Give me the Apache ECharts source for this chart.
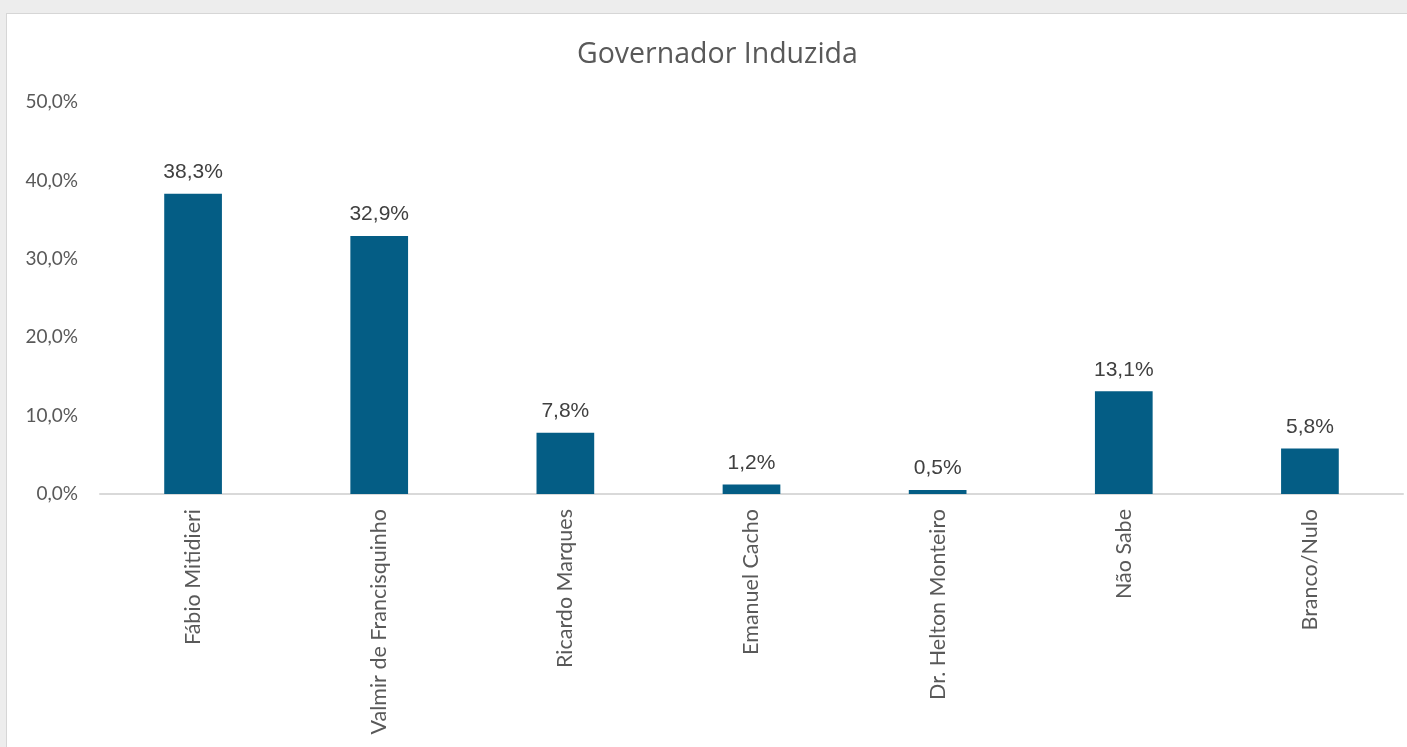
<!DOCTYPE html>
<html>
<head>
<meta charset="utf-8">
<script src="https://cdn.jsdelivr.net/npm/echarts@6/dist/echarts.min.js"></script>
<style>
  html, body { margin: 0; padding: 0; width: 1407px; height: 747px; background: #ededed; overflow: hidden; }
  #panel {
    position: absolute; left: 6px; top: 13px; width: 1401px; height: 734px;
    background: #ffffff; border-left: 1px solid #d6d6d6; border-top: 1px solid #d6d6d6;
  }
  #chart { position: absolute; left: 0; top: 0; width: 1401px; height: 734px; }
</style>
</head>
<body>
<div id="panel"><div id="chart"></div></div>
<script>
// Governor poll (induced), share of responses in percent
const categories = [
  'Fábio Mitidieri',
  'Valmir de Francisquinho',
  'Ricardo Marques',
  'Emanuel Cacho',
  'Dr. Helton Monteiro',
  'Não Sabe',
  'Branco/Nulo'
];
const shares = [38.3, 32.9, 7.8, 1.2, 0.5, 13.1, 5.8];
const yTicks = { min: 0, max: 50, step: 10 };

const pct = v => v.toFixed(1).replace('.', ',') + '%';

const chart = echarts.init(document.getElementById('chart'), null, { renderer: 'canvas' });
chart.setOption({
  animation: false,
  backgroundColor: '#ffffff',
  title: {
    text: 'Governador Induzida',
    left: 570,
    top: 26,
    padding: 0,
    textStyle: { color: '#595959', fontSize: 28.5, fontWeight: 'normal', fontFamily: 'Open Sans' }
  },
  grid: { left: 93, right: 5, top: 88, bottom: 254, containLabel: false },
  xAxis: {
    type: 'category',
    data: categories,
    axisLine: { lineStyle: { color: '#d9d9d9', width: 2 } },
    axisTick: { show: false },
    axisLabel: {
      rotate: 90,
      margin: 15,
      color: '#595959',
      fontSize: 21.5,
      fontFamily: 'Lato',
      interval: 0
    }
  },
  yAxis: {
    type: 'value',
    min: yTicks.min,
    max: yTicks.max,
    interval: yTicks.step,
    splitLine: { show: false },
    axisLine: { show: false },
    axisTick: { show: false },
    axisLabel: {
      margin: 22,
      color: '#595959',
      fontSize: 19,
      fontFamily: 'Lato',
      formatter: v => pct(v)
    }
  },
  series: [{
    type: 'bar',
    data: shares,
    barWidth: '31%',
    itemStyle: { color: '#045d85' },
    label: {
      show: true,
      position: 'top',
      distance: 11,
      color: '#404040',
      fontSize: 21,
      fontFamily: 'Liberation Sans',
      formatter: p => pct(p.value)
    }
  }]
});
</script>
</body>
</html>
